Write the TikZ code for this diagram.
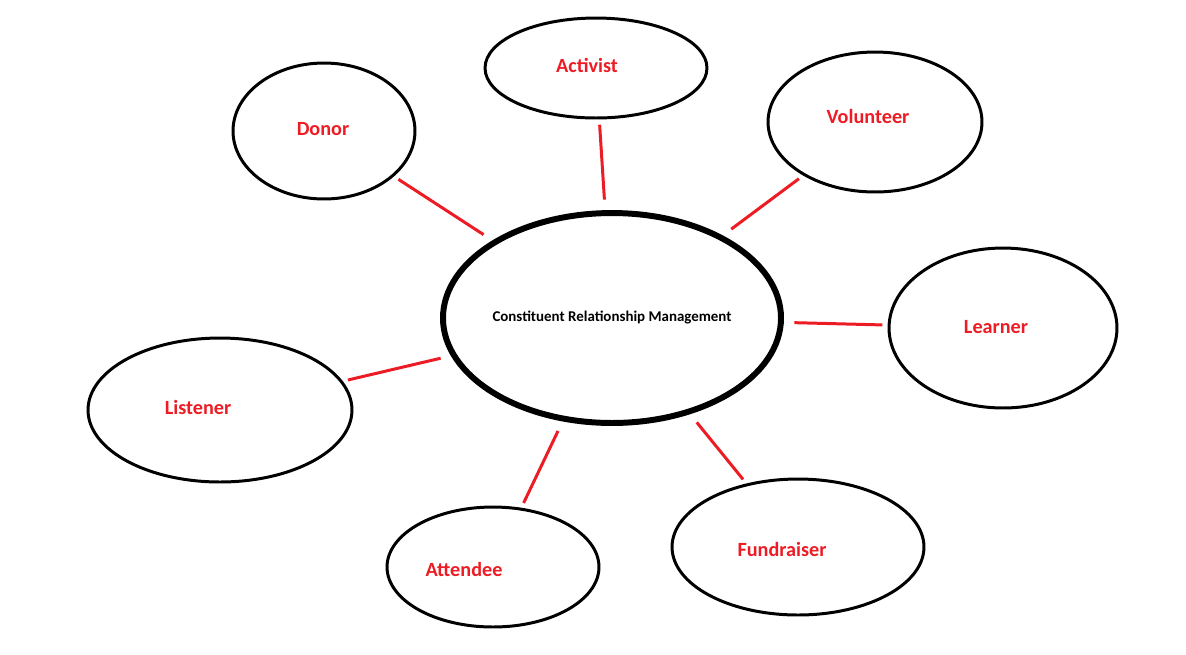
\documentclass[tikz,border=0pt]{standalone}
\usepackage{fontspec}
\setmainfont{Carlito}
\usetikzlibrary{shapes.geometric}
\definecolor{rolered}{RGB}{237,28,36}
\tikzset{
  role/.style={ellipse,draw=black,line width=1.7pt,inner sep=0pt},
  rolename/.style={text=rolered,font=\fontsize{11.5}{13}\selectfont\bfseries},
  link/.style={draw=rolered,line width=1.7pt,shorten <=3pt,shorten >=6pt}
}
\begin{document}
\begin{tikzpicture}[x=0.02cm,y=-0.02cm]
		\useasboundingbox (0,0) rectangle (1186,654);
		% centre
		\node[ellipse,draw=black,line width=3.4pt,minimum width=6.6cm,minimum height=4.2cm,inner sep=0pt,
		  font=\fontsize{8.5}{10}\selectfont\bfseries] (crm) at (612,318) {Constituent Relationship Management};
		% roles
		\node[role,minimum width=3.64cm,minimum height=2.72cm] (donor) at (324,131) {};
		\node[role,minimum width=4.44cm,minimum height=2.0cm] (activist) at (596,68) {};
		\node[role,minimum width=4.28cm,minimum height=2.8cm] (volunteer) at (875,122) {};
		\node[role,minimum width=4.56cm,minimum height=3.2cm] (learner) at (1003,328) {};
		\node[role,minimum width=5.04cm,minimum height=2.72cm] (fundraiser) at (798,547) {};
		\node[role,minimum width=4.24cm,minimum height=2.4cm] (attendee) at (493,567) {};
		\node[role,minimum width=5.28cm,minimum height=2.88cm] (listener) at (220,410) {};
		\node[rolename] (donortext) at (323,129) {Donor};
		\node[rolename] (activisttext) at (587,65) {Activist};
		\node[rolename] (volunteertext) at (868,116) {Volunteer};
		\node[rolename] (learnertext) at (996,327) {Learner};
		\node[rolename] (fundraisertext) at (782,549) {Fundraiser};
		\node[rolename] (attendeetext) at (464,569) {Attendee};
		\node[rolename] (listenertext) at (198,407) {Listener};
		% links
		\foreach \r in {donor,activist,volunteer,learner,fundraiser,attendee,listener}
		  \draw[link] (\r) -- (crm);
\end{tikzpicture}
\end{document}
